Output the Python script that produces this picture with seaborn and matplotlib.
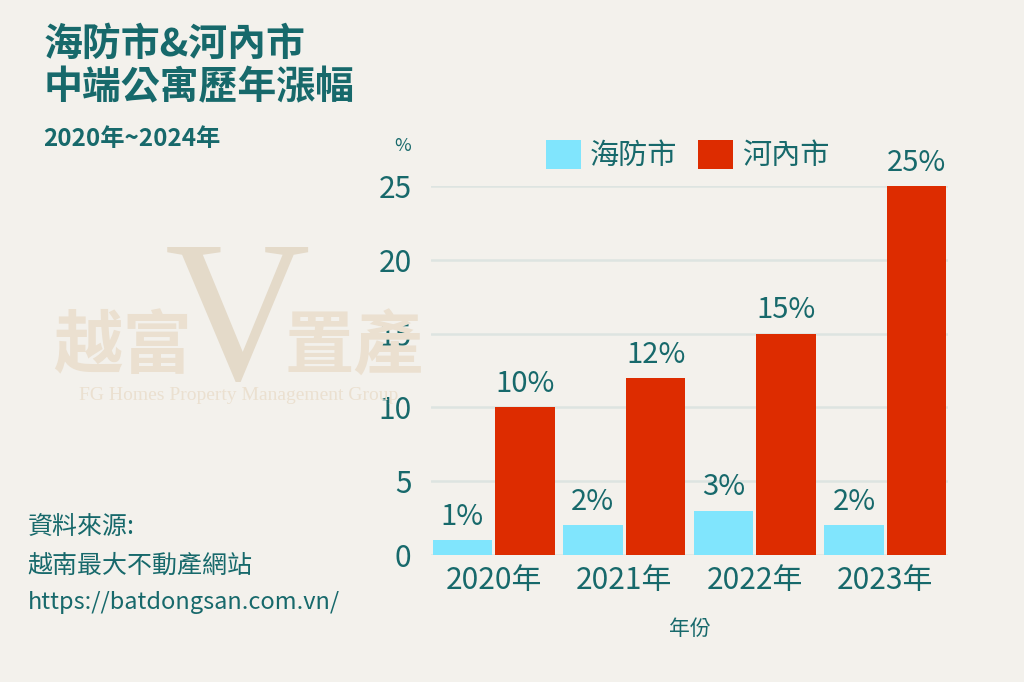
import pandas as pd
import seaborn as sns
import matplotlib.pyplot as plt

# --- データ ---
years = ['2020年', '2021年', '2022年', '2023年']
cities = ['海防市', '河內市']
haiphong = [1, 2, 3, 2]
hanoi = [10, 12, 15, 25]
y_ticks = [0, 5, 10, 15, 20, 25]

# --- 色 ---
BG = '#f3f1ec'
TEAL = '#17696b'
CYAN = '#80e5fd'
RED = '#dd2c00'
WM = '#ebe0d0'

df = pd.DataFrame({
    '年份': years * 2,
    '漲幅': haiphong + hanoi,
    '城市': [cities[0]] * len(years) + [cities[1]] * len(years),
})

sns.set_theme(style='white')
plt.rcParams['font.family'] = ['Noto Sans CJK TC', 'DejaVu Sans']

fig = plt.figure(figsize=(10.24, 6.82), dpi=100, facecolor=BG)

# 透かしロゴ
fig.text(0.052, 0.46, '越富', fontsize=50, fontweight='bold', color=WM, zorder=0)
fig.text(0.278, 0.46, '置產', fontsize=50, fontweight='bold', color=WM, zorder=0)
fig.text(0.232, 0.445, 'V', fontsize=145, color='#e4dac9', ha='center',
         family=['Liberation Serif'], zorder=0)
fig.text(0.233, 0.413, 'FG Homes Property Management Group', fontsize=14,
         color=WM, ha='center', family=['Liberation Serif'], zorder=0)

ax = fig.add_axes([0.4209, 0.1862, 0.5049, 0.541])
ax.set_facecolor('none')

sns.barplot(data=df, x='年份', y='漲幅', hue='城市', palette=[CYAN, RED],
            saturation=1, width=0.96, gap=0.05, linewidth=0, ax=ax, zorder=3)

for c in ax.containers:
    ax.bar_label(c, fmt='%d%%', padding=6, fontsize=21, color=TEAL)

ax.set_xlim(-0.48, 3.48)
ax.set_ylim(0, 25)
ax.set_yticks(y_ticks)
ax.grid(axis='y', color='#dde4e1', linewidth=1.8, zorder=0)
ax.tick_params(axis='y', labelsize=21.5, labelcolor=TEAL, pad=14, length=0)
ax.tick_params(axis='x', labelsize=21.5, labelcolor=TEAL, pad=7, length=0)
for s in ax.spines.values():
    s.set_visible(False)

ax.set_xlabel('年份', fontsize=15, color=TEAL, labelpad=16)
ax.set_ylabel('')
fig.text(0.393, 0.778, '%', fontsize=13, color=TEAL, ha='center')

ax.legend(loc='center left', bbox_to_anchor=(0.508, 0.772), bbox_transform=fig.transFigure,
          ncol=2, frameon=False, fontsize=21, labelcolor=TEAL, handlelength=1.2,
          handleheight=1.2, handletextpad=0.3, columnspacing=0.7)

# タイトル
fig.text(0.043, 0.935, '海防市&河內市', fontsize=28, fontweight='bold', color=TEAL, va='center')
fig.text(0.043, 0.871, '中端公寓歷年漲幅', fontsize=28, fontweight='bold', color=TEAL, va='center')
fig.text(0.042, 0.796, '2020年~2024年', fontsize=17.5, fontweight='bold', color=TEAL, va='center')

# 出典
fig.text(0.027, 0.227, '資料來源:', fontsize=18, color=TEAL, va='center')
fig.text(0.027, 0.171, '越南最大不動產網站', fontsize=18, color=TEAL, va='center')
fig.text(0.027, 0.116, 'https://batdongsan.com.vn/', fontsize=17, color=TEAL, va='center')

fig.savefig('out.png', dpi=100, facecolor=BG)
